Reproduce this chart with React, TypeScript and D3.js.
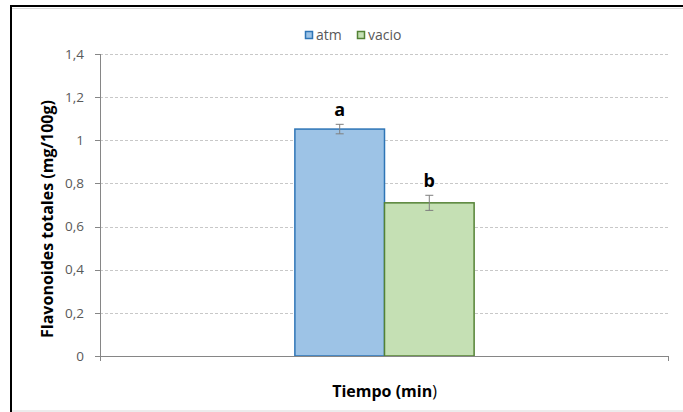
import React from "react";
import * as d3 from "d3";

const categories = [""];
const seriesNames = ["atm", "vacio"];
const atmValues = [1.052];
const vacioValues = [0.71];
const atmErrors = [0.022];
const vacioErrors = [0.035];
const letters = ["a", "b"];
const yTicks = [0, 0.2, 0.4, 0.6, 0.8, 1, 1.2, 1.4];

const W = 683;
const H = 412;
const M = { left: 100, right: 669, top: 54, bottom: 356 };
const fills = ["#9DC3E6", "#C5E0B4"];
const strokes = ["#2E75B6", "#548235"];
const FONT = "'Open Sans', sans-serif";

export default function App() {
  const y = d3.scaleLinear().domain([0, 1.4]).range([M.bottom, M.top]);
  const x0 = d3.scaleBand().domain(categories).range([M.left, M.right]).paddingInner(0).paddingOuter(0);
  const bandW = x0.bandwidth();
  const barsTotal = bandW * 0.315;
  const x1 = d3.scaleBand().domain(seriesNames).range([0, barsTotal]);
  const values = [atmValues, vacioValues];
  const errors = [atmErrors, vacioErrors];
  const fmt = (v: number) => String(+v.toFixed(1)).replace(".", ",");

  return (
    <svg width={W} height={H} style={{ position: "absolute", left: 0, top: 0, background: "#fff" }}>
      {/* frame */}
      <line x1={10} y1={6} x2={W} y2={6} stroke="#000" strokeWidth={2} />
      <line x1={11} y1={5} x2={11} y2={H} stroke="#000" strokeWidth={2} />
      <line x1={12} y1={8.5} x2={W} y2={8.5} stroke="#D9D9D9" strokeWidth={1} />
      <line x1={12} y1={411} x2={W} y2={411} stroke="#D9D9D9" strokeWidth={1} />

      {/* gridlines */}
      {yTicks.filter((t) => t > 0).map((t) => (
        <line key={"g" + t} x1={M.left} x2={M.right} y1={Math.round(y(t)) + 0.5} y2={Math.round(y(t)) + 0.5}
          stroke="#C8C8C8" strokeDasharray="3,2" strokeWidth={1} />
      ))}

      {/* bars */}
      {categories.map((c, ci) => {
        const cx = (x0(c) as number) + bandW / 2 - barsTotal / 2;
        return seriesNames.map((s, si) => {
          const v = values[si][ci];
          const e = errors[si][ci];
          const bx = cx + (x1(s) as number);
          const bw = x1.bandwidth();
          const mid = bx + bw / 2;
          return (
            <g key={s}>
              <rect x={bx} y={y(v)} width={bw} height={y(0) - y(v)} fill={fills[si]} stroke={strokes[si]} strokeWidth={1.5} />
              <g stroke="#7F7F7F" strokeWidth={1}>
                <line x1={mid} x2={mid} y1={y(v + e)} y2={y(v - e)} />
                <line x1={mid - 4} x2={mid + 4} y1={y(v + e)} y2={y(v + e)} />
                <line x1={mid - 4} x2={mid + 4} y1={y(v - e)} y2={y(v - e)} />
              </g>
              <text x={mid} y={y(v + e) - 8} textAnchor="middle" fontFamily={FONT} fontWeight="bold" fontSize={18} fill="#000">
                {letters[si]}
              </text>
            </g>
          );
        });
      })}

      {/* y axis */}
      <line x1={M.left + 0.5} x2={M.left + 0.5} y1={M.top} y2={M.bottom} stroke="#868686" strokeWidth={1} />
      {yTicks.map((t) => (
        <g key={"t" + t}>
          <line x1={M.left - 5} x2={M.left} y1={Math.round(y(t)) + 0.5} y2={Math.round(y(t)) + 0.5} stroke="#868686" />
          <text x={M.left - 16} y={y(t)} dy="0.35em" textAnchor="end" fontFamily={FONT} fontSize={13.5} fill="#595959">
            {fmt(t)}
          </text>
        </g>
      ))}

      {/* x axis */}
      <line x1={M.left - 5} x2={M.right} y1={M.bottom + 0.5} y2={M.bottom + 0.5} stroke="#868686" />
      <line x1={M.left + 0.5} x2={M.left + 0.5} y1={M.bottom} y2={M.bottom + 5} stroke="#868686" />
      <line x1={M.right - 0.5} x2={M.right - 0.5} y1={M.bottom} y2={M.bottom + 5} stroke="#868686" />

      {/* axis titles */}
      <text transform={`translate(53,219) rotate(-90)`} textAnchor="middle"
        fontFamily={FONT} fontWeight="bold" fontSize={16} fill="#000">
        Flavonoides totales (mg/100g)
      </text>
      <text x={(M.left + M.right) / 2} y={397} textAnchor="middle" fontFamily={FONT} fontSize={16} fill="#000">
        <tspan fontWeight="bold">Tiempo (min</tspan><tspan>)</tspan>
      </text>

      {/* legend */}
      {seriesNames.map((s, i) => {
        const lx = [305, 357][i];
        return (
          <g key={"l" + s}>
            <rect x={lx + 0.5} y={31.5} width={7} height={7} fill={fills[i]} stroke={strokes[i]} strokeWidth={1.5} />
            <text x={lx + 11} y={35} dy="0.35em" fontFamily={FONT} fontSize={14} fill="#595959">{s}</text>
          </g>
        );
      })}
    </svg>
  );
}
